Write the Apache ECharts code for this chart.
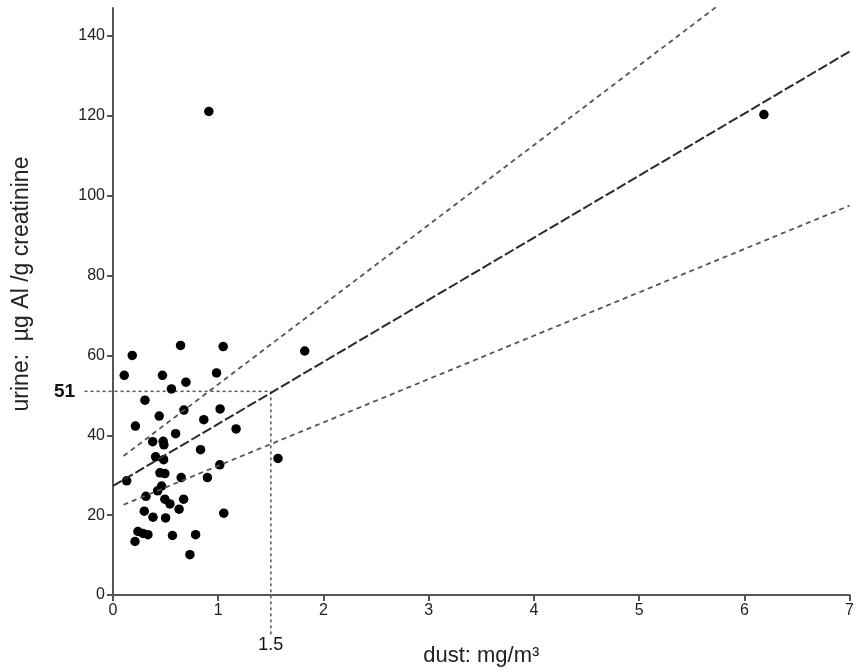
<!DOCTYPE html>
<html>
<head>
<meta charset="utf-8">
<script src="https://cdn.jsdelivr.net/npm/echarts@6/dist/echarts.min.js"></script>
<style>html,body{margin:0;padding:0;background:#fff;}#c{width:857px;height:672px;}</style>
</head>
<body>
<div id="c"></div>
<script>
// ---- data ----
var dustValues = [0.642,1.047,0.183,0.107,0.470,0.984,0.693,0.555,0.304,0.674,1.018,0.439,0.863,0.213,0.595,1.170,0.377,0.477,0.484,0.832,0.405,0.481,0.130,0.446,0.493,0.648,0.897,1.015,0.462,0.424,0.313,0.493,0.541,0.671,0.628,0.297,0.380,0.500,1.053,0.237,0.285,0.332,0.209,0.565,0.785,0.731,1.822,1.568,0.911,6.186];
var urineValues = [62.5,62.2,60.0,55.0,55.0,55.6,53.3,51.6,48.8,46.3,46.6,44.8,43.9,42.3,40.4,41.6,38.4,38.5,37.6,36.4,34.6,33.9,28.6,30.6,30.4,29.4,29.4,32.6,27.3,26.1,24.7,24.0,22.8,24.0,21.5,21.0,19.5,19.3,20.5,15.9,15.4,15.1,13.4,14.9,15.1,10.1,61.1,34.2,121.1,120.3];
var regressionLine = [[0, 27.3], [7, 136.1]];
var upperBand = [[0.1, 34.8], [5.74, 147.4]];
var lowerBand = [[0.1, 22.6], [7, 97.5]];
var refSegments = [[-0.27, 51, 1.5, 51], [1.5, 51, 1.5, -10.5]];
var refLabelX = [-0.46, 1.5];
var refLabelY = [51, -12.5];
var refLabelText = ['51', '1.5'];
var refLabelBold = [1, 0];
var xTickValues = [0, 1, 2, 3, 4, 5, 6, 7];
var yTickValues = [0, 20, 40, 60, 80, 100, 120, 140];
var xTitle = 'dust: mg/m\u00b3';
var yTitle = 'urine:  \u00b5g Al /g creatinine';

var points = dustValues.map(function (d, i) { return [d, urineValues[i]]; });
var refLabelData = refLabelX.map(function (x, i) { return [x, refLabelY[i], refLabelBold[i]]; });

var FONT = '"Liberation Sans", Arial, sans-serif';
var chart = echarts.init(document.getElementById('c'), null, {renderer: 'canvas'});
chart.setOption({
  animation: false,
  backgroundColor: '#fff',
  grid: {left: 113, right: 6, top: 8, bottom: 74, containLabel: false},
  xAxis: {
    type: 'value', min: 0, max: 7, interval: 1,
    name: xTitle, nameLocation: 'middle', nameGap: 50,
    nameTextStyle: {fontFamily: FONT, fontSize: 22, color: '#222'},
    axisLine: {show: true, onZero: false, lineStyle: {color: '#555', width: 2}},
    axisTick: {show: true, length: 6, lineStyle: {color: '#555', width: 2}, customValues: xTickValues},
    axisLabel: {fontFamily: FONT, fontSize: 16, color: '#222', margin: 8, customValues: xTickValues},
    splitLine: {show: false}
  },
  yAxis: {
    type: 'value', min: 0, max: 147,
    axisLine: {show: true, onZero: false, lineStyle: {color: '#555', width: 2}},
    axisTick: {show: true, length: 6, lineStyle: {color: '#555', width: 2}, customValues: yTickValues},
    axisLabel: {fontFamily: FONT, fontSize: 16, color: '#222', margin: 8, customValues: yTickValues},
    splitLine: {show: false}
  },
  graphic: [{
    type: 'text', x: 22, y: 284, rotation: Math.PI / 2,
    style: {text: yTitle, font: '23px ' + FONT, fill: '#222', align: 'center', verticalAlign: 'middle'}
  }],
  series: [
    {type: 'line', data: upperBand, symbol: 'none', silent: true,
     lineStyle: {color: '#555', width: 1.8, type: [5, 4]}},
    {type: 'line', data: lowerBand, symbol: 'none', silent: true,
     lineStyle: {color: '#555', width: 1.8, type: [5, 4]}},
    {type: 'line', data: regressionLine, symbol: 'none', silent: true,
     lineStyle: {color: '#2a2a2a', width: 2, type: [10, 3]}},
    {type: 'custom', data: refSegments, silent: true, clip: false,
     renderItem: function (params, api) {
       var p1 = api.coord([api.value(0), api.value(1)]);
       var p2 = api.coord([api.value(2), api.value(3)]);
       return {type: 'line', shape: {x1: p1[0], y1: p1[1], x2: p2[0], y2: p2[1]},
               style: {stroke: '#555', lineWidth: 1.5, lineDash: [3, 3]}};
     }},
    {type: 'scatter', data: points, symbol: 'circle', symbolSize: 9.5,
     itemStyle: {color: '#000', opacity: 1}},
    {type: 'custom', data: refLabelData, silent: true, clip: false,
     renderItem: function (params, api) {
       var p = api.coord([api.value(0), api.value(1)]);
       var bold = api.value(2) === 1;
       return {type: 'text', x: p[0], y: p[1],
               style: {text: refLabelText[params.dataIndex], fill: '#111',
                       font: (bold ? 'bold 19px ' : '18px ') + FONT,
                       align: 'center', verticalAlign: 'middle'}};
     }}
  ]
});
</script>
</body>
</html>
